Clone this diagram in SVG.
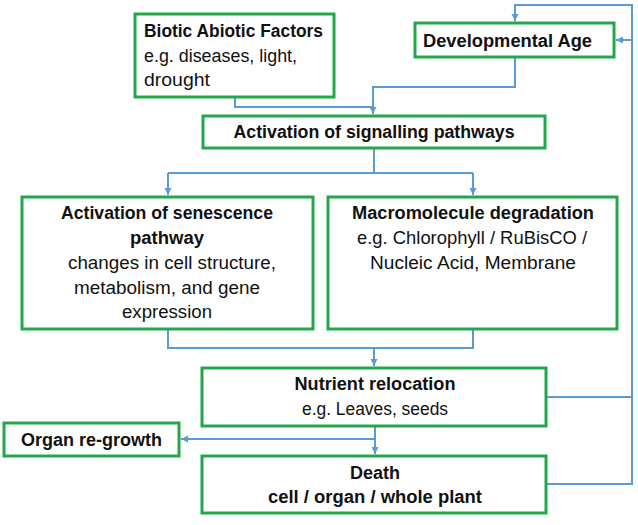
<svg xmlns="http://www.w3.org/2000/svg" width="638" height="525" viewBox="0 0 638 525">
<defs>
<style>
.box{fill:#ffffff;stroke:#22a84b;stroke-width:3}
.con{fill:none;stroke:#5b9bd5;stroke-width:2}
text{font-family:"Liberation Sans",Arial,sans-serif;font-size:17.5px;fill:#111111}
.b{font-weight:bold}
.c{text-anchor:middle}
</style>
<marker id="ah" markerUnits="userSpaceOnUse" markerWidth="8" markerHeight="8" refX="7" refY="3.5" orient="auto">
<path d="M0,0 L7,3.5 L0,7 z" fill="#5b9bd5"/>
</marker>
</defs>
<rect width="638" height="525" fill="#ffffff"/>
<g id="connectors">
<path class="con" d="M235,97 V107 H373 V114" marker-end="url(#ah)"/>
<path class="con" d="M515,57 V87 H373 V107"/>
<path class="con" d="M374,148 V173"/>
<path class="con" d="M168,173 H473"/>
<path class="con" d="M168,173 V195" marker-end="url(#ah)"/>
<path class="con" d="M473,173 V195" marker-end="url(#ah)"/>
<path class="con" d="M168,329 V348 H473 V329"/>
<path class="con" d="M374,348 V366" marker-end="url(#ah)"/>
<path class="con" d="M375,426 V454" marker-end="url(#ah)"/>
<path class="con" d="M375,439 H181" marker-end="url(#ah)"/>
<path class="con" d="M546,397 H632"/>
<path class="con" d="M546,484 H632 V5 H515 V21" marker-end="url(#ah)"/>
<path class="con" d="M632,40 H616" marker-end="url(#ah)"/>
</g>
<g id="biotic">
<rect class="box" x="135" y="14" width="199" height="83"/>
<text class="b" x="144" y="37" textLength="179" lengthAdjust="spacingAndGlyphs">Biotic Abiotic Factors</text>
<text x="144" y="62" textLength="153" lengthAdjust="spacingAndGlyphs">e.g. diseases, light,</text>
<text x="144" y="86" textLength="66" lengthAdjust="spacingAndGlyphs">drought</text>
</g>
<g id="devage">
<rect class="box" x="415" y="23" width="199" height="34"/>
<text class="b" x="423" y="47" textLength="169" lengthAdjust="spacingAndGlyphs">Developmental Age</text>
</g>
<g id="signalling">
<rect class="box" x="203" y="116" width="342" height="32"/>
<text class="b c" x="374" y="138" textLength="281" lengthAdjust="spacingAndGlyphs">Activation of signalling pathways</text>
</g>
<g id="senescence">
<rect class="box" x="22" y="197" width="291" height="132"/>
<text class="b c" x="167" y="219" textLength="212" lengthAdjust="spacingAndGlyphs">Activation of senescence</text>
<text class="b c" x="167" y="244" textLength="74" lengthAdjust="spacingAndGlyphs">pathway</text>
<text class="c" x="172" y="269" textLength="208" lengthAdjust="spacingAndGlyphs">changes in cell structure,</text>
<text class="c" x="167" y="294" textLength="186" lengthAdjust="spacingAndGlyphs">metabolism, and gene</text>
<text class="c" x="167" y="318" textLength="90" lengthAdjust="spacingAndGlyphs">expression</text>
</g>
<g id="macromolecule">
<rect class="box" x="328" y="197" width="289" height="132"/>
<text class="b c" x="473" y="219" textLength="242" lengthAdjust="spacingAndGlyphs">Macromolecule degradation</text>
<text class="c" x="472" y="244" textLength="230" lengthAdjust="spacingAndGlyphs">e.g. Chlorophyll / RuBisCO /</text>
<text class="c" x="473" y="269" textLength="206" lengthAdjust="spacingAndGlyphs">Nucleic Acid, Membrane</text>
</g>
<g id="nutrient">
<rect class="box" x="202" y="368" width="344" height="58"/>
<text class="b c" x="375" y="390" textLength="161" lengthAdjust="spacingAndGlyphs">Nutrient relocation</text>
<text class="c" x="375" y="415" textLength="146" lengthAdjust="spacingAndGlyphs">e.g. Leaves, seeds</text>
</g>
<g id="regrowth">
<rect class="box" x="4" y="423" width="175" height="33"/>
<text class="b" x="21" y="446" textLength="141" lengthAdjust="spacingAndGlyphs">Organ re-growth</text>
</g>
<g id="death">
<rect class="box" x="202" y="456" width="344" height="57"/>
<text class="b c" x="375" y="479" textLength="50" lengthAdjust="spacingAndGlyphs">Death</text>
<text class="b c" x="375" y="503" textLength="214" lengthAdjust="spacingAndGlyphs">cell / organ / whole plant</text>
</g>
</svg>
